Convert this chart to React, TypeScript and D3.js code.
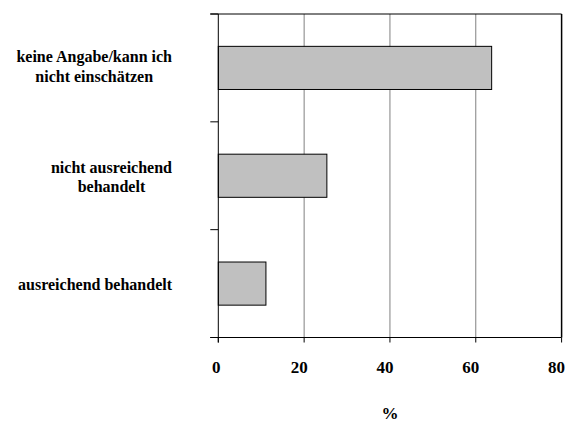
import React, { useEffect, useRef } from "react";
import * as d3 from "d3";

const categories: string[][] = [
  ["keine Angabe/kann ich", "nicht einschätzen"],
  ["nicht ausreichend", "behandelt"],
  ["ausreichend behandelt"],
];
const values: number[] = [63.7, 25.3, 11.1];
const xTicks: number[] = [0, 20, 40, 60, 80];
const xTitle = "%";

const W = 567;
const H = 423;
const M = { left: 218.3, right: 561.6, top: 14, bottom: 337.5 };
const FONT = "Liberation Serif";

export default function App() {
  const ref = useRef<SVGSVGElement>(null);
  useEffect(() => {
    const svg = d3.select(ref.current);
    svg.selectAll("*").remove();
    const x = d3.scaleLinear().domain([0, 80]).range([M.left, M.right]);
    const idx = categories.map((_, i) => String(i));
    const y = d3.scaleBand().domain(idx).range([M.top, M.bottom]).paddingInner(0.6).paddingOuter(0.3);
    const bandStep = y.step();

    svg.append("g").selectAll("line").data(xTicks.filter((t) => t > 0 && t < 80)).join("line")
      .attr("x1", (d) => x(d)).attr("x2", (d) => x(d))
      .attr("y1", M.top).attr("y2", M.bottom)
      .attr("stroke", "#808080").attr("stroke-width", 1);

    svg.append("g").selectAll("rect").data(values).join("rect")
      .attr("x", x(0)).attr("y", (_, i) => y(String(i))!)
      .attr("width", (d) => x(d) - x(0)).attr("height", y.bandwidth())
      .attr("fill", "#c0c0c0").attr("stroke", "#000").attr("stroke-width", 1);

    svg.append("line").attr("x1", M.left - 8).attr("x2", M.right).attr("y1", M.top).attr("y2", M.top).attr("stroke", "#000");
    svg.append("line").attr("x1", M.right).attr("x2", M.right).attr("y1", M.top).attr("y2", M.bottom).attr("stroke", "#000").attr("stroke-width", 1.5);
    svg.append("line").attr("x1", M.left).attr("x2", M.left).attr("y1", M.top).attr("y2", M.bottom + 5).attr("stroke", "#000");
    svg.append("line").attr("x1", M.left - 8).attr("x2", M.right).attr("y1", M.bottom).attr("y2", M.bottom).attr("stroke", "#000");

    const bounds = d3.range(categories.length + 1).map((i) => M.top + i * bandStep);
    svg.append("g").selectAll("line").data(bounds).join("line")
      .attr("x1", M.left - 8).attr("x2", M.left).attr("y1", (d) => d).attr("y2", (d) => d)
      .attr("stroke", "#000");

    svg.append("g").selectAll("line").data(xTicks).join("line")
      .attr("x1", (d) => x(d)).attr("x2", (d) => x(d)).attr("y1", M.bottom).attr("y2", M.bottom + 5)
      .attr("stroke", "#000");

    svg.append("g").selectAll("text").data(xTicks).join("text")
      .attr("x", (d) => x(d) - (d === 0 ? 2 : 5)).attr("y", 373)
      .attr("text-anchor", "middle").style("font-family", FONT).style("font-weight", "bold")
      .style("font-size", "17px").text((d) => String(d));

    svg.append("text").attr("x", (M.left + M.right) / 2).attr("y", 419)
      .attr("text-anchor", "middle").style("font-family", FONT).style("font-weight", "bold")
      .style("font-size", "17px").text(xTitle);

    const rightEdge = 172;
    const lh = 19.5;
    const offs = [4, 6.5, 6];
    categories.forEach((lines, i) => {
      const cy = M.top + (i + 0.5) * bandStep;
      const g = svg.append("g");
      const texts = lines.map((ln, j) =>
        g.append("text").style("font-family", FONT).style("font-weight", "bold").style("font-size", "16px")
          .attr("text-anchor", "middle")
          .attr("y", cy + offs[i] + (j - (lines.length - 1) / 2) * lh)
          .text(ln)
      );
      const widths = texts.map((t) => (t.node() as SVGTextElement).getComputedTextLength());
      const bw = Math.max(...widths);
      texts.forEach((t) => t.attr("x", rightEdge - bw / 2));
    });
  }, []);
  return (
    <svg ref={ref} width={W} height={H} style={{ position: "fixed", left: 0, top: 0, background: "#fff" }} />
  );
}
